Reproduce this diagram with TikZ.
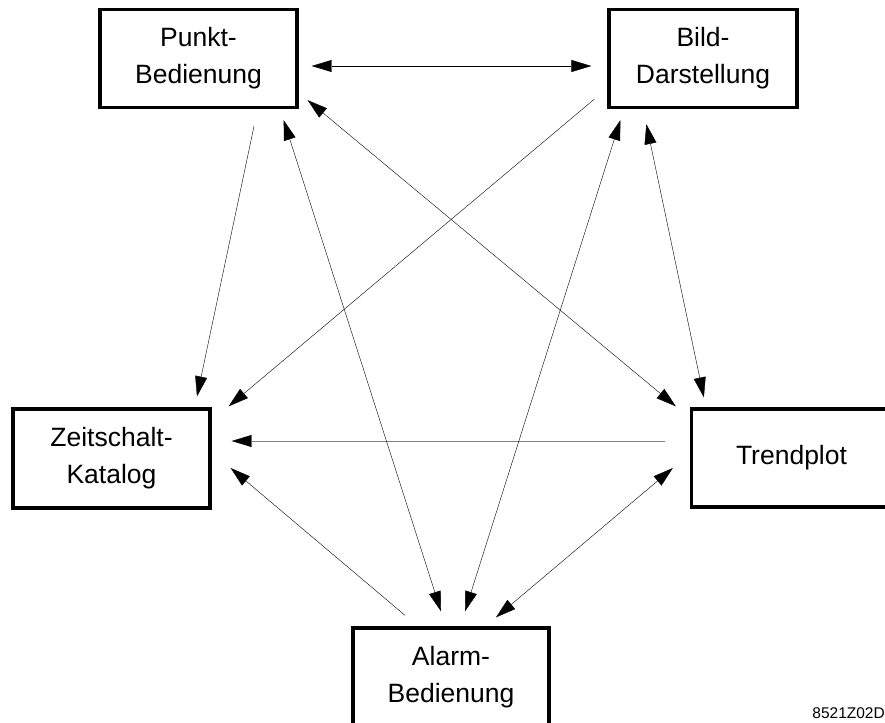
\documentclass[tikz,border=0pt]{standalone}
\usepackage{fontspec}
\setmainfont{Liberation Sans}
\usetikzlibrary{arrows.meta,positioning}
\tikzset{
    >={Triangle[length=20pt,width=12pt]}, line width=1pt,
    box/.style ={rectangle, draw, line width=3.3pt, inner sep=0pt, minimum width=197pt, minimum height=98pt, align=center, font=\fontsize{26.5}{37}\selectfont},
    oneway/.style={->},
    twoway/.style={<->},
    faint/.style={draw=black!50, -{Triangle[length=20pt,width=12pt,color=black]}},
    tag/.style = {inner sep=0pt, font=\fontsize{15.5}{17}\selectfont}
}

\begin{document}
\begin{tikzpicture}[x=1pt,y=-1pt]
        \useasboundingbox (0,0) rectangle (885,722);
        \clip (0,0) rectangle (885,722);
        \node[box] (punkt) at (198.5,58.5) {Punkt-\\Bedienung};
        \node[box, minimum width=188pt] (bild) at (703,58.5) {Bild-\\Darstellung};
        \node[box, minimum height=99pt] (zeit) at (111.5,458.5) {Zeitschalt-\\Katalog};
        \node[box, minimum width=200pt] (trend) at (791.5,458) {Trendplot};
        \node[box, minimum width=196pt] (alarm) at (451,677) {Alarm-\\Bedienung};
        \node[tag, anchor=base east] (code) at (885,718) {8521Z02D};
        % upper row
        \path ([shift={(13,7.5)}]punkt.east) edge[twoway] ([shift={(-16,7.5)}]bild.west);
        % into the catalogue
        \path ([shift={(55.5,17)}]punkt.south) edge[oneway] ([shift={(85.5,-11)}]zeit.north);
        \path ([shift={(-13,-10)}]bild.south west) edge[oneway] ([shift={(17,-1)}]zeit.north east);
        \path ([shift={(-25,-17)}]trend.west) edge[faint] ([shift={(20,-17.5)}]zeit.east);
        \path ([shift={(-46,-11)}]alarm.north) edge[oneway] ([shift={(19,9.5)}]zeit.east);
        % crossing links
        \path ([shift={(-15,11)}]punkt.south east) edge[twoway] ([shift={(-10,-15)}]alarm.north);
        \path ([shift={(9,-9)}]punkt.south east) edge[twoway] ([shift={(-14,-1)}]trend.north west);
        \path ([shift={(13,11)}]bild.south west) edge[twoway] ([shift={(14,-15)}]alarm.north);
        \path ([shift={(39,15)}]bild.south west) edge[twoway] ([shift={(14,-10)}]trend.north west);
        \path ([shift={(45,-9)}]alarm.north) edge[twoway] ([shift={(-17,10)}]trend.west);
    \end{tikzpicture}
\end{document}
